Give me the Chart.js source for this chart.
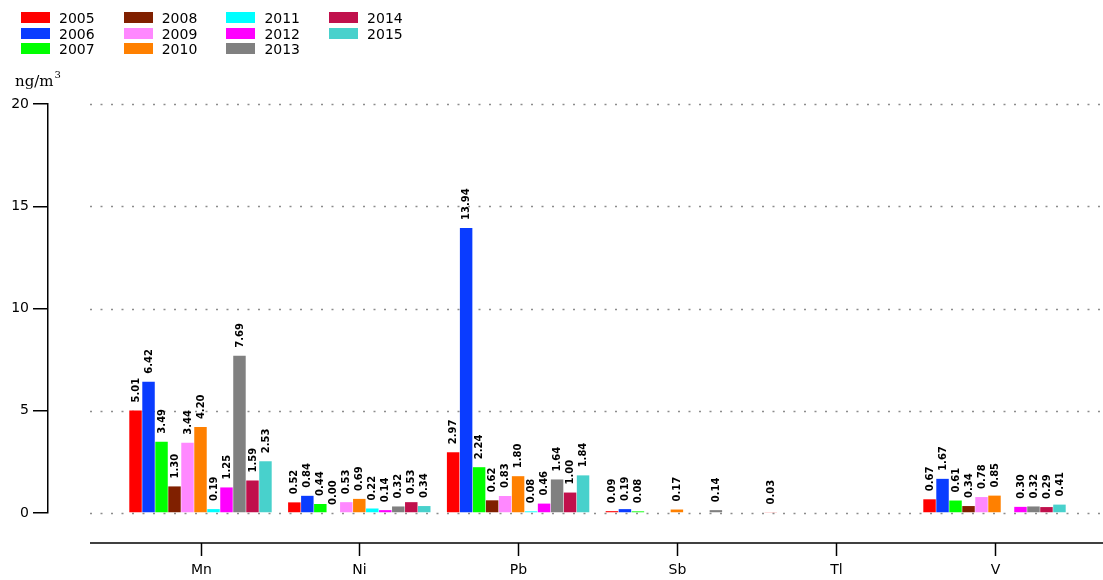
<!DOCTYPE html>
<html>
<head>
<meta charset="utf-8">
<script src="https://cdn.jsdelivr.net/npm/chart.js@4/dist/chart.umd.min.js"></script>
<style>
html,body{margin:0;padding:0;background:#fff;}
#wrap{position:relative;width:1103px;height:580px;overflow:hidden;}
#c{position:absolute;left:0;top:0;}
#legend{position:absolute;left:0;top:0;font:14px "DejaVu Sans",sans-serif;color:#000;}
.li{position:absolute;height:16px;white-space:nowrap;}
.sw{position:absolute;left:0;top:2px;width:29px;height:11px;}
.lt{position:absolute;left:38px;top:0;line-height:16px;}
</style>
</head>
<body>
<div id="wrap">
<canvas id="c" width="1103" height="580"></canvas>
<div id="legend"></div>
</div>
<script>
// ---- data ----
const categories = ["Mn", "Ni", "Pb", "Sb", "Tl", "V"];
const years = ["2005","2006","2007","2008","2009","2010","2011","2012","2013","2014","2015"];
const colors = ["#ff0000","#0a3cff","#00ff00","#802000","#ff88ff","#ff8000","#00ffff","#ff00ff","#808080","#c0104c","#48d1cc"];
// values per category, in year order 2005..2015 (null = no measurement)
const mnValues = [5.01, 6.42, 3.49, 1.30, 3.44, 4.20, 0.19, 1.25, 7.69, 1.59, 2.53];
const niValues = [0.52, 0.84, 0.44, 0.00, 0.53, 0.69, 0.22, 0.14, 0.32, 0.53, 0.34];
const pbValues = [2.97, 13.94, 2.24, 0.62, 0.83, 1.80, 0.08, 0.46, 1.64, 1.00, 1.84];
const sbValues = [0.09, 0.19, 0.08, null, null, 0.17, null, null, 0.14, null, null];
const tlValues = [0.03, null, null, null, null, null, null, null, null, null, null];
const vValues  = [0.67, 1.67, 0.61, 0.34, 0.78, 0.85, null, 0.30, 0.32, 0.29, 0.41];
const yTicks = [0, 5, 10, 15, 20];
const unitLabel = "ng/m";
const unitSup = "3";

const byCategory = [mnValues, niValues, pbValues, sbValues, tlValues, vValues];

// ---- layout constants ----
const AX_LEFT = 48, PLOT_RIGHT = 1103, GRID_LEFT = 90;
const FIRST_CENTER = 200.5, LAST_CENTER = 994.5;
const unitPx = (LAST_CENTER - FIRST_CENTER) / (categories.length - 1);
const xMin = -(FIRST_CENTER - AX_LEFT) / unitPx;
const xMax = (categories.length - 1) + (PLOT_RIGHT - LAST_CENTER) / unitPx;

const datasets = years.map((yr, i) => ({
  label: yr,
  data: categories.map((c, j) => ({x: j, y: byCategory[j][i]})),
  backgroundColor: colors[i],
  borderWidth: 0,
  categoryPercentage: 0.9,
  barPercentage: 0.96
}));

// legend (HTML), column-major, 3 rows
const lg = document.getElementById('legend');
years.forEach((yr, i) => {
  const col = Math.floor(i / 3), row = i % 3;
  const d = document.createElement('div');
  d.className = 'li';
  d.style.left = (21 + col * 102.7) + 'px';
  d.style.top = (10 + row * 15.5) + 'px';
  d.innerHTML = '<span class="sw" style="background:' + colors[i] + '"></span><span class="lt">' + yr + '</span>';
  lg.appendChild(d);
});

const gridPlugin = {
  id: 'gridDots',
  beforeDatasetsDraw(chart) {
    const ctx = chart.ctx, y = chart.scales.y;
    ctx.save();
    ctx.strokeStyle = '#8c8c8c';
    ctx.lineWidth = 1.6;
    ctx.setLineDash([2, 8.5]);
    yTicks.forEach(t => {
      const py = Math.round(y.getPixelForValue(t)) + 0.5;
      ctx.beginPath(); ctx.moveTo(GRID_LEFT, py); ctx.lineTo(PLOT_RIGHT, py); ctx.stroke();
    });
    ctx.restore();
  }
};

const labelPlugin = {
  id: 'barLabels',
  afterDatasetsDraw(chart) {
    const ctx = chart.ctx;
    chart.data.datasets.forEach((ds, i) => {
      const meta = chart.getDatasetMeta(i);
      meta.data.forEach((el, j) => {
        const v = ds.data[j].y;
        if (v === null || v === undefined || !isFinite(el.y)) return;
        ctx.save();
        ctx.translate(el.x + 0.5, el.y - 8);
        ctx.rotate(-Math.PI / 2);
        ctx.font = 'bold 10px "DejaVu Sans"';
        ctx.textAlign = 'left';
        ctx.textBaseline = 'middle';
        ctx.fillStyle = '#000';
        ctx.fillText(v.toFixed(2), 0, 0);
        ctx.restore();
      });
    });
  }
};

const axisPlugin = {
  id: 'xAxisAndUnit',
  afterDraw(chart) {
    const ctx = chart.ctx, x = chart.scales.x;
    const AY = 543;
    ctx.save();
    ctx.strokeStyle = '#000';
    ctx.lineWidth = 1.5;
    ctx.beginPath(); ctx.moveTo(GRID_LEFT, AY); ctx.lineTo(PLOT_RIGHT, AY); ctx.stroke();
    ctx.font = '14px "DejaVu Sans"';
    ctx.fillStyle = '#000';
    ctx.textAlign = 'center';
    ctx.textBaseline = 'middle';
    categories.forEach((c, j) => {
      const px = Math.round(x.getPixelForValue(j)) + 0.5;
      ctx.beginPath(); ctx.moveTo(px, AY); ctx.lineTo(px, AY + 13); ctx.stroke();
      ctx.fillText(c, px, AY + 27);
    });
    // unit label
    ctx.textAlign = 'left';
    ctx.textBaseline = 'alphabetic';
    ctx.font = '15px "DejaVu Serif"';
    ctx.fillText(unitLabel, 15, 86);
    const w = ctx.measureText(unitLabel).width;
    ctx.font = '10px "DejaVu Serif"';
    ctx.fillText(unitSup, 15 + w + 1, 78);
    ctx.restore();
  }
};

new Chart(document.getElementById('c'), {
  type: 'bar',
  data: { datasets },
  options: {
    responsive: false,
    animation: false,
    events: [],
    layout: { padding: { top: 104, bottom: 67, left: 0, right: 0 } },
    plugins: { legend: { display: false }, tooltip: { enabled: false } },
    scales: {
      x: { type: 'linear', min: xMin, max: xMax, display: false, offset: false, grid: { offset: false } },
      y: {
        min: 0, max: 20,
        afterBuildTicks(s) { s.ticks = yTicks.map(v => ({ value: v })); },
        ticks: { color: '#000', font: { size: 14, family: 'DejaVu Sans' }, padding: 4 },
        grid: { drawOnChartArea: false, drawTicks: true, tickLength: 15, color: '#000', lineWidth: 1.5 },
        border: { color: '#000', width: 1.5 },
        afterFit(s) { s.width = AX_LEFT; }
      }
    }
  },
  plugins: [gridPlugin, labelPlugin, axisPlugin]
});
</script>
</body>
</html>
